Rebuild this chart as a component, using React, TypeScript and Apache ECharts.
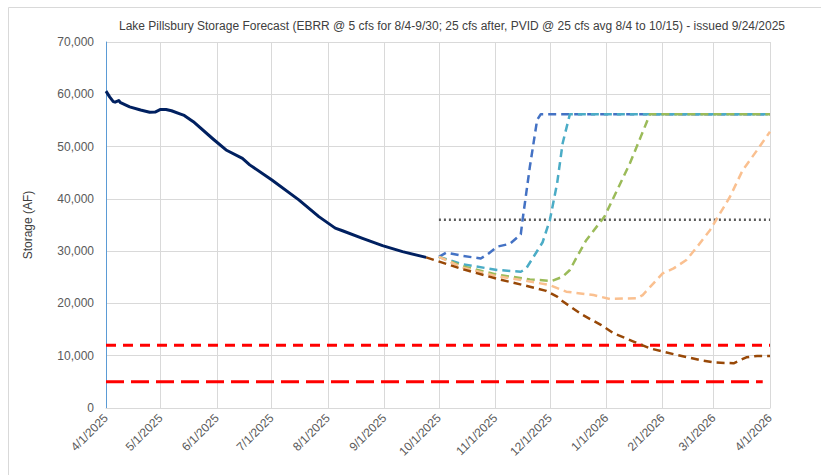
import React, { useEffect, useRef } from 'react';
import * as echarts from 'echarts';

const TITLE =
  'Lake Pillsbury Storage Forecast (EBRR @ 5 cfs for 8/4-9/30; 25 cfs after, PVID @ 25 cfs avg 8/4 to 10/15) - issued 9/24/2025';
const Y_NAME = 'Storage (AF)';
const X_MIN = '2025-04-01';
const X_MAX = '2026-04-01';

const histDates = ['2025-04-01', '2025-04-03', '2025-04-05', '2025-04-06', '2025-04-08', '2025-04-09', '2025-04-14', '2025-04-20', '2025-04-25', '2025-04-28', '2025-05-01', '2025-05-04', '2025-05-07', '2025-05-12', '2025-05-14', '2025-05-19', '2025-05-30', '2025-06-06', '2025-06-15', '2025-06-19', '2025-07-01', '2025-07-16', '2025-07-27', '2025-08-05', '2025-08-09', '2025-08-20', '2025-08-31', '2025-09-11', '2025-09-24'];
const histValues = [60600, 59500, 58600, 58500, 58800, 58400, 57600, 57000, 56550, 56600, 57100, 57100, 56850, 56200, 55950, 54750, 51400, 49350, 47750, 46500, 43650, 39800, 36600, 34400, 33900, 32450, 31050, 29900, 28800];

const blueDates = ['2025-10-01', '2025-10-05', '2025-10-14', '2025-10-24', '2025-10-28', '2025-11-02', '2025-11-09', '2025-11-15', '2025-11-16', '2025-11-20', '2025-11-24', '2025-11-26', '2026-04-01'];
const blueValues = [28900, 29700, 29100, 28600, 29450, 30850, 31400, 33200, 36000, 46150, 55100, 56200, 56200];

const tealDates = ['2025-10-01', '2025-10-14', '2025-11-02', '2025-11-15', '2025-11-18', '2025-11-22', '2025-11-27', '2025-12-01', '2025-12-05', '2025-12-08', '2025-12-12', '2026-04-01'];
const tealValues = [28900, 27500, 26400, 26050, 26700, 28900, 31700, 35950, 43000, 50600, 56200, 56200];

const greenDates = ['2025-10-01', '2025-10-14', '2025-11-02', '2025-11-20', '2025-12-02', '2025-12-08', '2025-12-12', '2025-12-16', '2025-12-21', '2025-12-31', '2026-01-07', '2026-01-14', '2026-01-20', '2026-01-25', '2026-04-01'];
const greenValues = [28900, 27100, 25500, 24600, 24300, 25100, 26400, 29000, 32100, 36600, 41700, 46800, 51900, 56200, 56200];

const orangeDates = ['2025-10-01', '2025-10-14', '2025-11-02', '2025-11-20', '2025-12-01', '2025-12-10', '2025-12-25', '2026-01-03', '2026-01-18', '2026-01-21', '2026-02-01', '2026-02-07', '2026-02-14', '2026-02-20', '2026-02-27', '2026-03-10', '2026-03-17', '2026-03-25', '2026-04-01'];
const orangeValues = [28900, 26850, 25200, 24200, 23500, 22250, 21600, 20850, 21000, 21600, 25750, 26700, 28300, 30850, 34000, 40400, 45500, 49350, 52850];

const brownDates = ['2025-09-24', '2025-10-14', '2025-11-02', '2025-11-20', '2025-11-29', '2025-12-05', '2025-12-08', '2025-12-19', '2025-12-29', '2026-01-05', '2026-01-16', '2026-01-25', '2026-02-07', '2026-02-21', '2026-03-02', '2026-03-12', '2026-03-19', '2026-03-25', '2026-04-01'];
const brownValues = [28800, 26550, 24700, 23200, 22400, 21300, 20400, 17800, 15900, 14300, 12700, 11400, 10300, 9200, 8700, 8550, 9700, 9950, 9950];

const dottedDates = ['2025-10-01', '2026-04-01'];
const dottedValues = [36000, 36000];

const redUpperDates = ['2025-04-01', '2026-04-01'];
const redUpperValues = [12000, 12000];

const redLowerDates = ['2025-04-01', '2026-03-28'];
const redLowerValues = [5000, 5000];

const FONT = 'Liberation Sans, Arial, sans-serif';

function pairs(d: string[], v: number[]) {
  return d.map((x, i) => [x, v[i]]);
}

function line(name: string, d: string[], v: number[], color: string, width: number, type: any, z = 2) {
  return {
    name,
    type: 'line',
    data: pairs(d, v),
    showSymbol: false,
    symbol: 'none',
    z,
    lineStyle: { color, width, type, cap: 'butt', join: 'round' },
  };
}

export default function App() {
  const ref = useRef<HTMLDivElement>(null);
  useEffect(() => {
    if (!ref.current) return;
    const chart = echarts.init(ref.current, null, { renderer: 'svg' });
    const day = 86400000;
    chart.setOption({
      animation: false,
      backgroundColor: '#ffffff',
      textStyle: { fontFamily: FONT },
      title: {
        text: TITLE,
        left: 114,
        top: 15,
        textStyle: { fontSize: 12, fontWeight: 'normal', color: '#404040', fontFamily: FONT },
      },
      graphic: [
        {
          type: 'rect',
          silent: true,
          shape: { x: 8.5, y: 7.5, width: 900, height: 600 },
          style: { fill: 'none', stroke: '#d9d9d9', lineWidth: 1 },
        },
      ],
      grid: { left: 106, right: 51, top: 42, bottom: 67 },
      xAxis: {
        type: 'time',
        min: X_MIN,
        max: X_MAX,
        splitNumber: 12,
        minInterval: 28 * day,
        maxInterval: 31 * day,
        axisLine: { show: true, lineStyle: { color: '#d9d9d9', width: 1 } },
        axisTick: { show: false },
        splitLine: { show: true, lineStyle: { color: '#d9d9d9', width: 1 } },
        axisLabel: {
          rotate: 45,
          margin: 8,
          color: '#595959',
          fontSize: 12,
          fontFamily: FONT,
          hideOverlap: false,
          showMinLabel: true,
          showMaxLabel: true,
          formatter: (val: number) => {
            const d = new Date(val);
            return `${d.getMonth() + 1}/${d.getDate()}/${d.getFullYear()}`;
          },
        },
      },
      yAxis: {
        type: 'value',
        min: 0,
        max: 70000,
        interval: 10000,
        name: Y_NAME,
        nameLocation: 'middle',
        nameGap: 72,
        nameRotate: 90,
        nameTextStyle: { fontSize: 12, color: '#404040', fontFamily: FONT },
        axisLine: { show: true, lineStyle: { color: '#5B9BD5', width: 1 } },
        axisTick: { show: false },
        splitLine: { show: true, lineStyle: { color: '#d9d9d9', width: 1 } },
        axisLabel: {
          color: '#595959',
          fontSize: 12,
          margin: 12,
          fontFamily: FONT,
          formatter: (v: number) => v.toLocaleString('en-US'),
        },
      },
      series: [
        line('Lower limit', redLowerDates, redLowerValues, '#FF0000', 3, [18, 7]),
        line('Upper limit', redUpperDates, redUpperValues, '#FF0000', 3, [10, 7]),
        line('Target', dottedDates, dottedValues, '#595959', 2.5, [2, 3]),
        line('Historical', histDates, histValues, '#002060', 3, 'solid', 3),
        line('Scenario 1', blueDates, blueValues, '#4472C4', 2.5, [8, 5]),
        line('Scenario 2', tealDates, tealValues, '#4BACC6', 2.5, [8, 5]),
        line('Scenario 3', greenDates, greenValues, '#9BBB59', 2.5, [8, 5]),
        line('Scenario 4', orangeDates, orangeValues, '#FAC090', 2.5, [8, 5]),
        line('Scenario 5', brownDates, brownValues, '#984807', 2.5, [8, 5]),
      ],
    });
    return () => chart.dispose();
  }, []);
  return (
    <div
      ref={ref}
      style={{ position: 'absolute', left: 0, top: 0, width: 821, height: 475, background: '#fff' }}
    />
  );
}
